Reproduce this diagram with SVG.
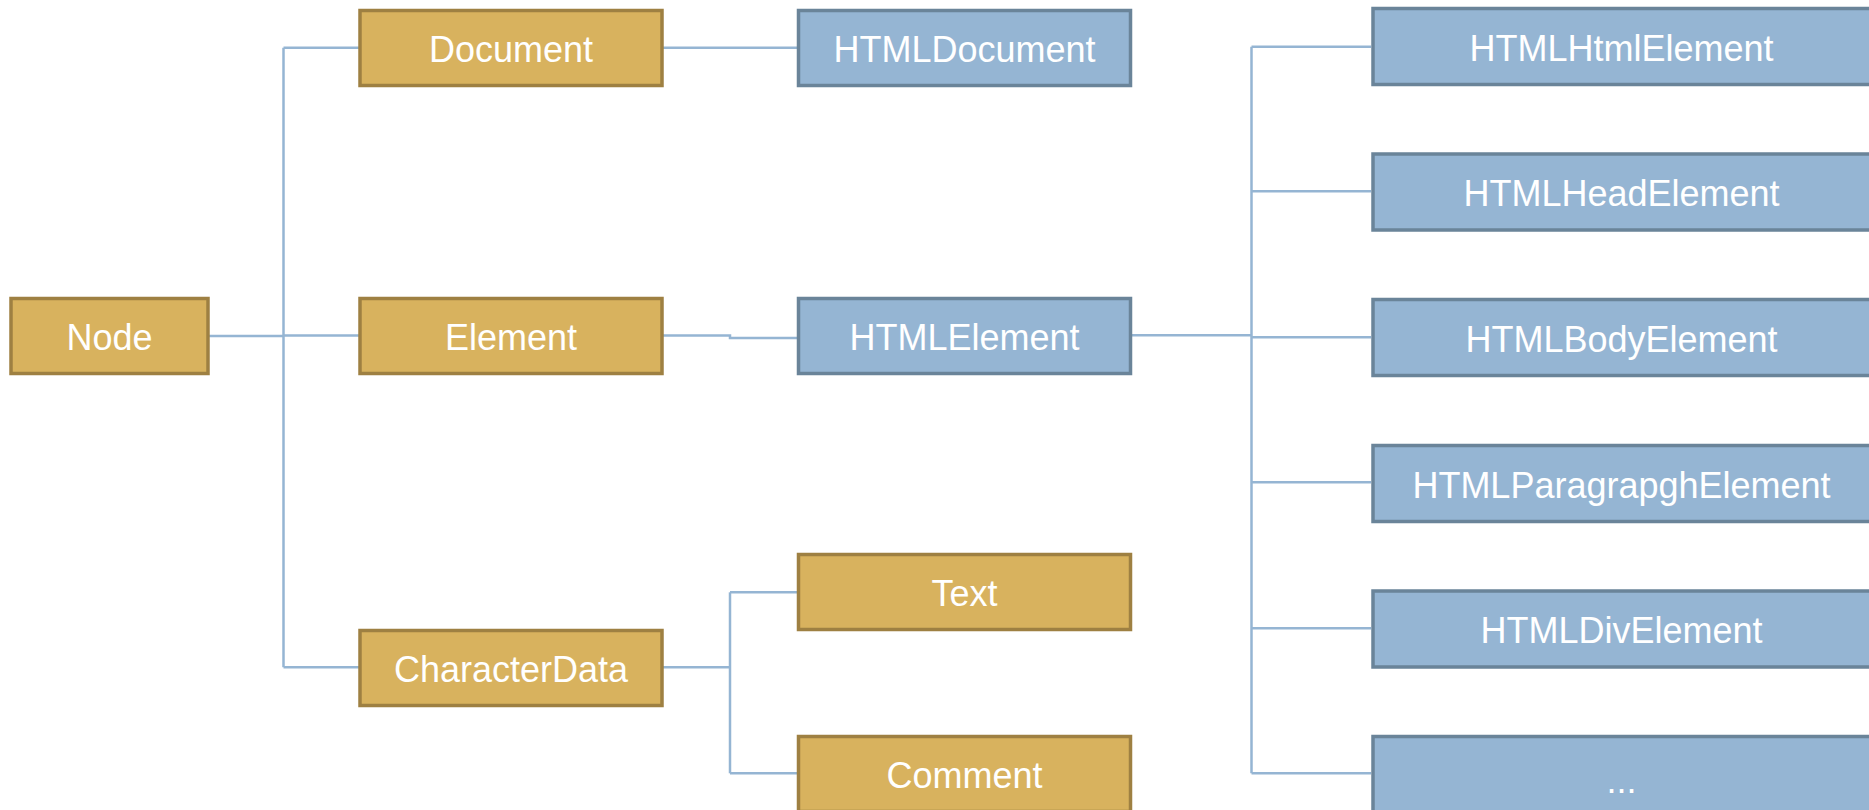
<svg xmlns="http://www.w3.org/2000/svg" width="1869" height="810" viewBox="0 0 1869 810">
  <style>
    .gold rect { fill: #D8B25E; stroke: #9E8042; stroke-width: 3.5; }
    .blue rect { fill: #95B5D3; stroke: #6A8499; stroke-width: 3.5; }
    text { font-family: "Liberation Sans", Arial, sans-serif; font-size: 36px; fill: #FFFFFF; text-anchor: middle; }
    #connectors path { fill: none; stroke: #95B5D3; stroke-width: 2.5; }
  </style>
  <rect width="1869" height="810" fill="#FFFFFF"/>

  <!-- tree connectors -->
  <g id="connectors">
    <!-- Node to its subclasses -->
    <path d="M209 336 H283.5"/>
    <path d="M283.5 47.7 V667.3"/>
    <path d="M283.5 47.7 H359"/>
    <path d="M283.5 335.5 H359"/>
    <path d="M283.5 667.3 H359"/>
    <!-- Document to HTMLDocument -->
    <path d="M663 47.7 H797"/>
    <!-- Element to HTMLElement -->
    <path d="M663 335.5 H730 V338 H797"/>
    <!-- CharacterData to Text / Comment -->
    <path d="M663 667.3 H730"/>
    <path d="M730 592.3 V773.3"/>
    <path d="M730 592.3 H797"/>
    <path d="M730 773.3 H797"/>
    <!-- HTMLElement to the element types -->
    <path d="M1131.6 335.3 H1251.5"/>
    <path d="M1251.5 46.7 V773.3"/>
    <path d="M1251.5 46.7 H1371"/>
    <path d="M1251.5 191.3 H1371"/>
    <path d="M1251.5 337.3 H1371"/>
    <path d="M1251.5 482.3 H1371"/>
    <path d="M1251.5 628.3 H1371"/>
    <path d="M1251.5 773.3 H1371"/>
  </g>

  <!-- DOM core interfaces -->
  <g id="node-node" class="gold">
    <rect x="11" y="298.5" width="197" height="75"/>
    <text x="109.5" y="350">Node</text>
  </g>
  <g id="node-document" class="gold">
    <rect x="360" y="10.5" width="302" height="75"/>
    <text x="511" y="62">Document</text>
  </g>
  <g id="node-element" class="gold">
    <rect x="360" y="298.5" width="302" height="75"/>
    <text x="511" y="350">Element</text>
  </g>
  <g id="node-characterdata" class="gold">
    <rect x="360" y="630.5" width="302" height="75"/>
    <text x="511" y="682">CharacterData</text>
  </g>
  <g id="node-text" class="gold">
    <rect x="798.5" y="554.5" width="332" height="75"/>
    <text x="964.5" y="606">Text</text>
  </g>
  <g id="node-comment" class="gold">
    <rect x="798.5" y="736.5" width="332" height="75"/>
    <text x="964.5" y="788">Comment</text>
  </g>

  <!-- HTML interfaces -->
  <g id="node-htmldocument" class="blue">
    <rect x="798.5" y="10.5" width="332" height="75"/>
    <text x="964.5" y="62">HTMLDocument</text>
  </g>
  <g id="node-htmlelement" class="blue">
    <rect x="798.5" y="298.5" width="332" height="75"/>
    <text x="964.5" y="350">HTMLElement</text>
  </g>
  <g id="node-htmlhtmlelement" class="blue">
    <rect x="1373" y="8.5" width="500" height="76"/>
    <text x="1621.5" y="61">HTMLHtmlElement</text>
  </g>
  <g id="node-htmlheadelement" class="blue">
    <rect x="1373" y="154" width="500" height="76"/>
    <text x="1621.5" y="206">HTMLHeadElement</text>
  </g>
  <g id="node-htmlbodyelement" class="blue">
    <rect x="1373" y="299.5" width="500" height="76"/>
    <text x="1621.5" y="352">HTMLBodyElement</text>
  </g>
  <g id="node-htmlparagraphelement" class="blue">
    <rect x="1373" y="445.5" width="500" height="76"/>
    <text x="1621.5" y="498">HTMLParagrapghElement</text>
  </g>
  <g id="node-htmldivelement" class="blue">
    <rect x="1373" y="591" width="500" height="76"/>
    <text x="1621.5" y="643">HTMLDivElement</text>
  </g>
  <g id="node-more" class="blue">
    <rect x="1373" y="736.5" width="500" height="76"/>
    <text x="1621.5" y="793">...</text>
  </g>
</svg>
